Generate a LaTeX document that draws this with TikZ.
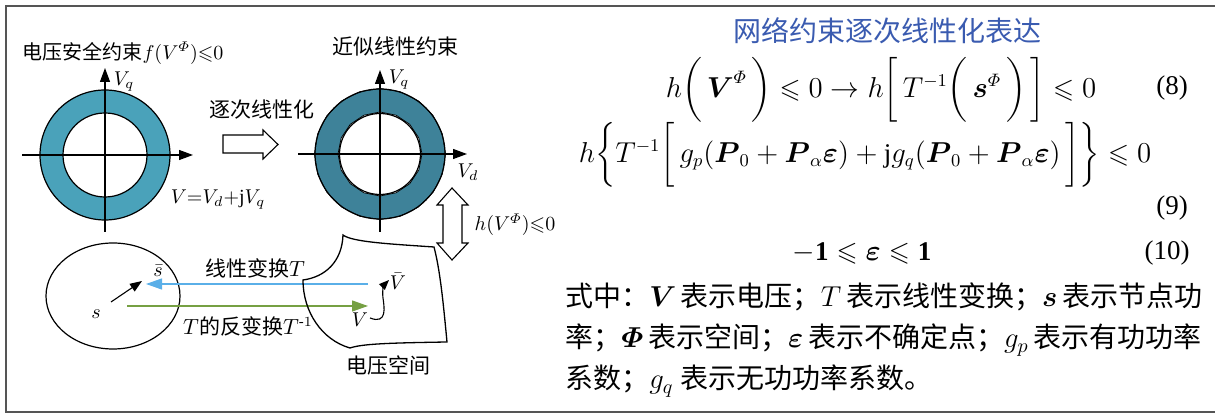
\documentclass[tikz,border=0pt]{standalone}
\usepackage{amsmath,amssymb}
\usepackage{fontspec}
\setmainfont{Liberation Serif}
\newfontfamily\cjk{Noto Sans CJK SC}
\newcommand\zh[1]{{\cjk #1}}
\usetikzlibrary{arrows.meta}
\definecolor{ringA}{HTML}{4AA2BA}
\definecolor{ringB}{HTML}{3E8299}
\definecolor{ttl}{HTML}{3A5BB0}
\definecolor{tblue}{HTML}{5AAFE8}
\definecolor{tgreen}{HTML}{76A043}
\definecolor{framec}{HTML}{555555}
\begin{document}
\begin{tikzpicture}[x=0.5pt,y=-0.5pt,
  lab/.style={inner sep=0pt,font=\fontsize{10}{12}\selectfont},
  zhl/.style={inner sep=0pt,font=\cjk\fontsize{10.5}{12}\selectfont},
  axis/.style={line width=0.6pt,-{Triangle[length=7pt,width=5pt]}},
  outline/.style={line width=0.6pt},
  hollow/.style={line width=0.55pt,fill=white},
  eqn/.style={inner sep=0pt,font=\fontsize{13.5}{15}\selectfont},
  txt/.style={inner sep=0pt,anchor=west,font=\fontsize{14}{16}\selectfont}]
\useasboundingbox (0,0) rectangle (1215,415);
\draw[framec,line width=0.8pt] (1215,6) -- (6,6) -- (6,412) -- (1215,412);

% ---- left ring
\coordinate (c1) at (105,155);
\fill[ringA,even odd rule] (c1) circle[radius=65] (c1) circle[radius=42];
\draw[outline] (c1) circle[radius=65] (c1) circle[radius=42];
\coordinate (a1l) at (22,155); \coordinate (a1r) at (193,155);
\coordinate (a1b) at (105,232); \coordinate (a1t) at (105,68);
\draw[axis] (a1l) -- (a1r);
\draw[axis] (a1b) -- (a1t);
\node[lab] (vq1) at (124,82) {$V_q$};
\node[lab] (t1) at (123,53) {\zh{电压安全约束}$f(V^{\varPhi}){\leqslant}0$};
\node[lab] (veq) at (218,200) {$V{=}V_d{+}\mathrm{j}V_q$};

% ---- hollow right arrow
\draw[hollow] (223,135) -- (263,135) -- (263,130) -- (278,144.5) -- (263,159) -- (263,153) -- (223,153) -- cycle;
\node[zhl] (lin) at (262,110) {逐次线性化};

% ---- right ring (polygonal approximation)
\coordinate (c2) at (380,154);
\fill[ringB,even odd rule]
  ([shift={(380,154)}]0:65.5) \foreach \a in {18,36,...,342}{ -- ([shift={(380,154)}]\a:65.5)} -- cycle
  ([shift={(380,154)}]0:42) \foreach \a in {22.5,45,...,337.5}{ -- ([shift={(380,154)}]\a:42)} -- cycle;
\draw[line width=0.35pt]
  ([shift={(380,154)}]0:65.5) \foreach \a in {18,36,...,342}{ -- ([shift={(380,154)}]\a:65.5)} -- cycle
  ([shift={(380,154)}]0:42) \foreach \a in {22.5,45,...,337.5}{ -- ([shift={(380,154)}]\a:42)} -- cycle;
\draw[outline] (c2) circle[radius=65] (c2) circle[radius=40.5];
\coordinate (a2l) at (298,154); \coordinate (a2r) at (467,154);
\coordinate (a2b) at (380,232); \coordinate (a2t) at (380,70);
\draw[axis] (a2l) -- (a2r);
\draw[axis] (a2b) -- (a2t);
\node[lab] (vq2) at (399,80) {$V_q$};
\node[lab] (vd2) at (468,172) {$V_d$};
\node[zhl] (t2) at (395,47) {近似线性约束};

% ---- double vertical arrow
\draw[hollow] (452,188) -- (468,205) -- (462,205) -- (462,243) -- (468,243) -- (452,260)
  -- (437,243) -- (443,243) -- (443,205) -- (437,205) -- cycle;
\node[lab] (hv) at (515,225) {$h(V^{\varPhi}){\leqslant}0$};

% ---- power space ellipse
\draw[outline] (113,296) ellipse[x radius=67, y radius=53];
\node[lab] (s) at (96,314) {$s$};
\node[lab] (sb) at (158,271) {$\bar{s}$};
\coordinate (sf) at (111,302); \coordinate (st) at (142,281);
\draw[line width=0.55pt,-{Triangle[length=6pt,width=4.5pt]}] (sf) -- (st);

% ---- transformation arrows
\coordinate (bl) at (368,284); \coordinate (br) at (146,284);
\draw[tblue,line width=0.6pt,-{Triangle[length=8pt,width=5.5pt]}] (bl) -- (br);
\node[zhl] (tT) at (255,268) {线性变换\rmfamily$T$};
\coordinate (gl) at (127,306); \coordinate (gr) at (368,306);
\draw[tgreen,line width=0.6pt,-{Triangle[length=8pt,width=5.5pt]}] (gl) -- (gr);
\node[zhl] (tTi) at (248,326) {\rmfamily$T$\cjk 的反变换\rmfamily$T^{\text{-}1}$};

% ---- voltage space
\draw[line width=0.65pt] (343,235) .. controls (342,262) and (325,277) .. (303,280)
  .. controls (303,312) and (322,340) .. (350,348)
  .. controls (362,344) and (385,343) .. (447,342)
  .. controls (443,300) and (440,270) .. (434,247)
  .. controls (390,244) and (352,242) .. (343,235) -- cycle;
\node[lab] (vb) at (398,281) {$\bar{V}$};
\node[lab] (v) at (360,320) {$V$};
\coordinate (wf) at (370,318); \coordinate (wt) at (389,280);
\draw[line width=0.55pt,-{Triangle[length=5pt,width=4pt]}] (wf) .. controls (388,325) and (384,306) .. (383,298) .. controls (382,290) and (384,285) .. (wt);
\node[zhl] (vs) at (388,365) {电压空间};

% ---- right side
\node[inner sep=0pt,font=\cjk\fontsize{14}{16}\selectfont,text=ttl] (title) at (887,31) {网络约束逐次线性化表达};
\node[eqn] (e8) at (881,90) {$h\bigg(\,\boldsymbol{V}^{\varPhi}\,\bigg)\leqslant 0\rightarrow h\bigg[\,T^{-1}\bigg(\,\boldsymbol{s}^{\varPhi}\,\bigg)\,\bigg]\leqslant 0$};
\node[eqn] (n8) at (1172,88) {(8)};
\node[eqn] (e9) at (865,155) {$h\bigg\{T^{-1}\bigg[\,g_p(\boldsymbol{P}_0+\boldsymbol{P}_{\alpha}\boldsymbol{\varepsilon})+\mathrm{j}g_q(\boldsymbol{P}_0+\boldsymbol{P}_{\alpha}\boldsymbol{\varepsilon})\,\bigg]\bigg\}\leqslant 0$};
\node[eqn] (n9) at (1172,208) {(9)};
\node[eqn] (e10) at (862,253) {$\mathbf{-1}\leqslant\boldsymbol{\varepsilon}\leqslant\mathbf{1}$};
\node[eqn] (n10) at (1167,253) {(10)};
\node[txt] (l1) at (565,297) {\makebox[317.5pt][s]{\zh{式中：}$\boldsymbol{V}$ \zh{表示电压；}$T$ \zh{表示线性变换；}$\boldsymbol{s}$ \zh{表示节点功}}};
\node[txt] (l2) at (565,340) {\makebox[317.5pt][s]{\zh{率；}$\boldsymbol{\varPhi}$ \zh{表示空间；}$\boldsymbol{\varepsilon}$ \zh{表示不确定点；}$g_p$ \zh{表示有功功率}}};
\node[txt] (l3) at (565,381) {\zh{系数；}$g_q$ \zh{表示无功功率系数。}};
\end{tikzpicture}
\end{document}
